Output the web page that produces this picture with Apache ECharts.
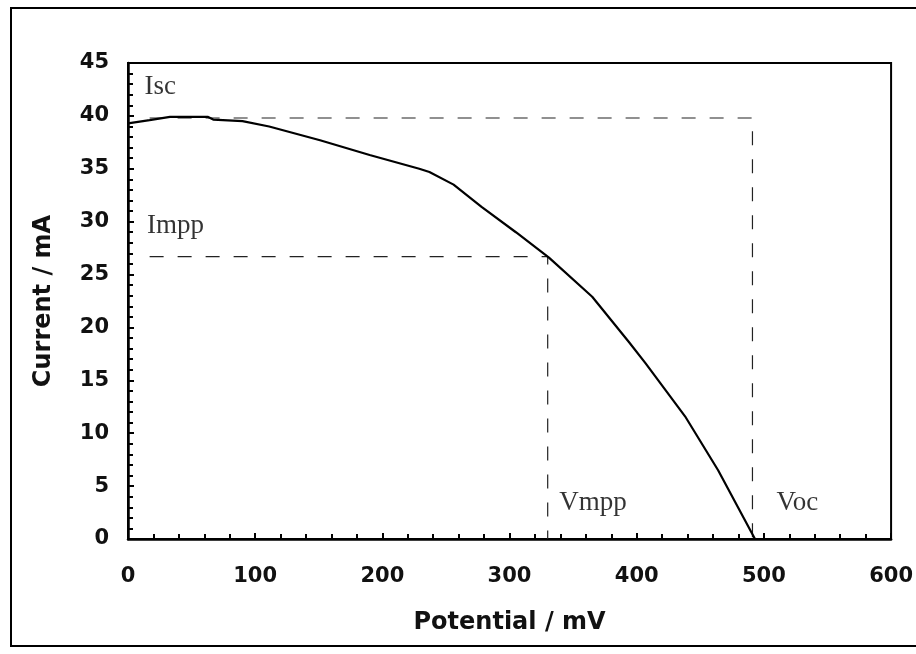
<!DOCTYPE html>
<html><head><meta charset="utf-8">
<script src="https://cdn.jsdelivr.net/npm/echarts@6/dist/echarts.min.js"></script>
<style>html,body{margin:0;padding:0;background:#fff}#c{width:916px;height:654px}</style>
</head><body><div id="c"></div>
<script>
// I-V curve (Potential mV, Current mA)
var ivCurve = [[0,39.3],[17,39.6],[33,39.9],[63,39.9],[67,39.65],[90,39.5],[111,39.0],[151,37.7],[190,36.3],[229,35.0],[237,34.7],[256,33.5],[278,31.4],[305,29.0],[331,26.6],[365,22.9],[394,18.6],[407,16.6],[438,11.6],[464,6.5],[493,0]];
var iscLine = [[17,39.8],[491,39.8],[491,0]];
var mppLine = [[17,26.7],[330,26.7],[330,0]];
var annotations = [[13,42.7,'Isc'],[15,29.6,'Impp'],[339,3.4,'Vmpp'],[510,3.4,'Voc']];
var xTitle = 'Potential / mV';
var yTitle = 'Current / mA';

var chart = echarts.init(document.getElementById('c'));
var tickFont = {fontFamily:'DejaVu Sans', fontWeight:'bold', fontSize:21, color:'#111'};
var dash = {color:'#222', width:1.2, type:[14,14]};
chart.setOption({
  animation:false,
  backgroundColor:'#fff',
  graphic:[{type:'rect', shape:{x:11,y:8,width:930,height:638}, style:{fill:'none',stroke:'#000',lineWidth:2}, silent:true}],
  grid:{left:128, top:63, right:23, bottom:115, show:true, borderColor:'#000', borderWidth:2, backgroundColor:'transparent'},
  xAxis:{type:'value', min:0, max:600, interval:100,
    name:xTitle, nameLocation:'middle', nameGap:72,
    nameTextStyle:{fontFamily:'DejaVu Sans', fontWeight:'bold', fontSize:24, color:'#111'},
    axisLine:{show:true, lineStyle:{color:'#000', width:2.5}},
    axisTick:{show:true, inside:true, length:6, lineStyle:{color:'#000', width:2}},
    minorTick:{show:true, splitNumber:5, length:5, lineStyle:{color:'#000', width:2}},
    splitLine:{show:false},
    axisLabel:Object.assign({margin:27}, tickFont)},
  yAxis:{type:'value', min:0, max:45, interval:5,
    name:yTitle, nameLocation:'middle', nameGap:72, nameRotate:90,
    nameTextStyle:{fontFamily:'DejaVu Sans', fontWeight:'bold', fontSize:24, color:'#111'},
    axisLine:{show:true, lineStyle:{color:'#000', width:2.5}},
    axisTick:{show:true, inside:true, length:6, lineStyle:{color:'#000', width:2}},
    minorTick:{show:true, splitNumber:5, length:5, lineStyle:{color:'#000', width:2}},
    splitLine:{show:false},
    axisLabel:Object.assign({margin:19}, tickFont)},
  series:[
    {type:'line', data:iscLine, symbol:'none', lineStyle:dash, z:1},
    {type:'line', data:mppLine, symbol:'none', lineStyle:dash, z:1},
    {type:'line', data:ivCurve, symbol:'none', smooth:false, lineStyle:{color:'#000', width:2.2}, z:3},
    {type:'scatter', data:annotations, symbolSize:0,
      label:{show:true, position:'right', distance:0, formatter:function(p){return p.data[2];},
        fontFamily:'Liberation Serif', fontSize:27, color:'#000'}}
  ]
});
</script></body></html>
